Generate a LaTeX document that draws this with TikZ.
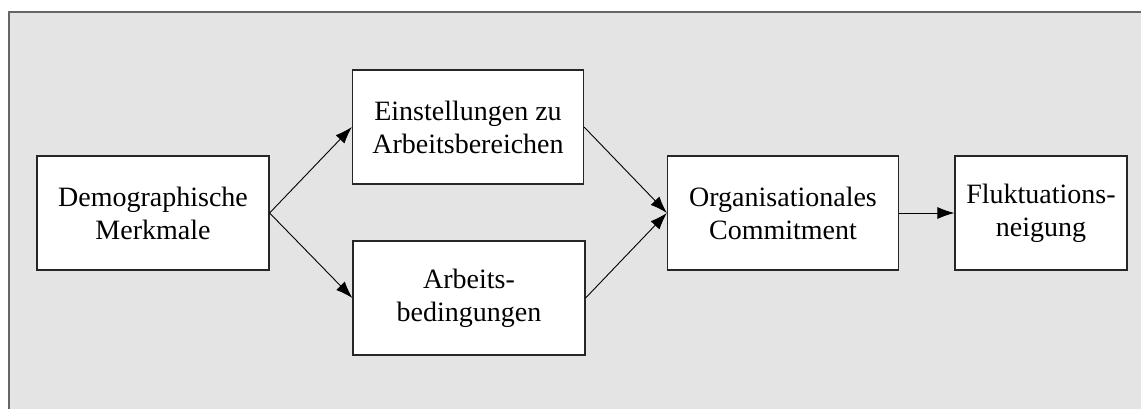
\documentclass[tikz,border=0pt]{standalone}
\usepackage{fontspec}
\setmainfont{Liberation Serif}
\usetikzlibrary{arrows.meta}

\begin{document}
\begin{tikzpicture}[x=1pt,y=-1pt,>={Latex[length=17pt,width=12pt]},
  box/.style={draw=black!85,line width=1.2pt,fill=white,inner sep=0pt,
    minimum height=114pt,align=center,font=\fontsize{28}{33}\selectfont},
  link/.style={->,line width=0.9pt}]
\useasboundingbox (0,0) rectangle (1141,408);
\fill[white] (0,0) rectangle (1141,408);
\draw[draw=black!60,fill=black!10.5,line width=2pt] (9,12) rectangle (1160,430);

\node[box,minimum width=232pt] (demog)  at (153,213) {Demographische\\Merkmale};
\node[box,minimum width=231pt] (einst)  at (468,127) {Einstellungen zu\\Arbeitsbereichen};
\node[box,minimum width=232pt] (arbeit) at (469,298) {Arbeits-\\bedingungen};
\node[box,minimum width=231pt] (orgcom) at (783,213) {Organisationales\\Commitment};
\node[box,minimum width=172pt] (flukt)  at (1041,213) {Fluktuations-\\neigung};

\draw[link] (demog.east) -- (einst.west);
\draw[link] (demog.east) -- (arbeit.west);
\draw[link] (einst.east) -- (orgcom.west);
\draw[link] (arbeit.east) -- (orgcom.west);
\draw[link] (orgcom) -- (flukt);
\end{tikzpicture}
\end{document}
